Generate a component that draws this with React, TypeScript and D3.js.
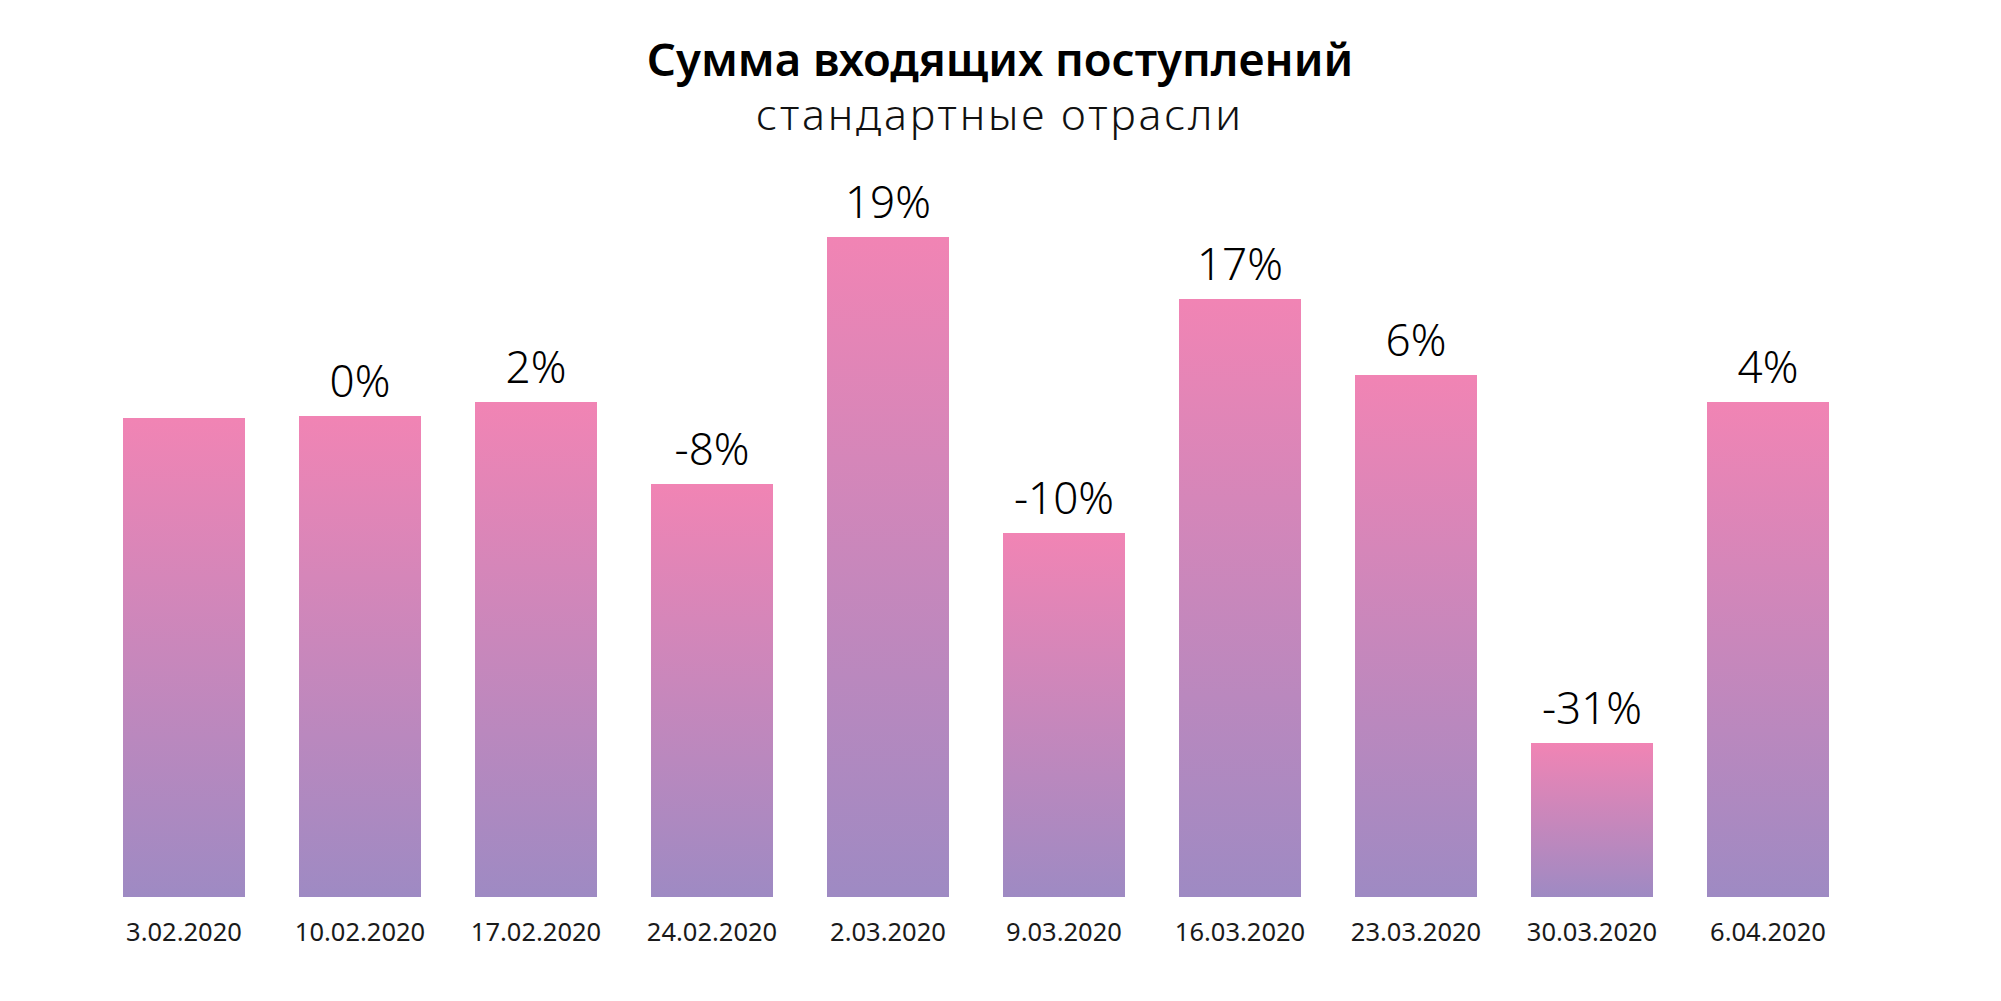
import React from "react";
import * as d3 from "d3";

const categories = ["3.02.2020", "10.02.2020", "17.02.2020", "24.02.2020", "2.03.2020", "9.03.2020", "16.03.2020", "23.03.2020", "30.03.2020", "6.04.2020"];
const values = [47.9, 48.1, 49.5, 41.3, 66.0, 36.4, 59.8, 52.2, 15.4, 49.5];
const labels = ["", "0%", "2%", "-8%", "19%", "-10%", "17%", "6%", "-31%", "4%"];

const W = 2001;
const H = 1001;
const FONT = "'Noto Sans', 'Open Sans', sans-serif";

export default function App() {
  const x = d3.scaleBand<string>().domain(categories).range([123, 1829]).paddingInner(54 / 176).paddingOuter(0);
  const y = d3.scaleLinear().domain([0, 70]).range([897, 197]);
  return (
    <svg width={W} height={H} style={{ position: "absolute", left: 0, top: 0, background: "#fff" }}>
      <defs>
        <linearGradient id="barGrad" x1="0" y1="0" x2="0" y2="1">
          <stop offset="0%" stopColor="#f184b4" />
          <stop offset="100%" stopColor="#9e8ac3" />
        </linearGradient>
      </defs>
      <text x={1000} y={76} textAnchor="middle" fontFamily={FONT} fontWeight={600} fontSize={45.5} fill="#000">
        Сумма входящих поступлений
      </text>
      <text x={1000} y={130} textAnchor="middle" fontFamily={FONT} fontWeight={300} fontSize={43} letterSpacing={2.8} fill="#111">
        стандартные отрасли
      </text>
      {categories.map((c, i) => (
        <g key={c}>
          <rect x={x(c)} y={y(values[i])} width={x.bandwidth()} height={y(0) - y(values[i])} fill="url(#barGrad)" />
          {labels[i] && (
            <text x={(x(c) as number) + x.bandwidth() / 2} y={y(values[i]) - 19} textAnchor="middle" fontFamily={FONT} fontWeight={300} fontSize={44} fill="#000">
              {labels[i]}
            </text>
          )}
          <text x={(x(c) as number) + x.bandwidth() / 2} y={941} textAnchor="middle" fontFamily={FONT} fontWeight={400} fontSize={25.5} fill="#1a1a1a">
            {c}
          </text>
        </g>
      ))}
    </svg>
  );
}
